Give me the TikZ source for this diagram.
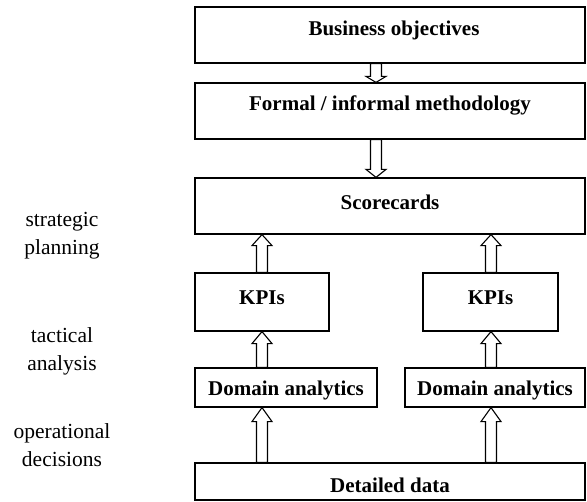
\documentclass[tikz,border=0pt]{standalone}
\usepackage{fontspec}
\setmainfont{Liberation Serif}
\usetikzlibrary{calc}
\tikzset{
  x=1pt, y=-1pt,
  box/.style={draw, line width=1.2pt, rectangle, inner sep=0pt},
  lbl/.style={font=\fontsize{21}{26}\selectfont\bfseries, inner sep=0pt},
  side/.style={font=\fontsize{21.5}{28}\selectfont, align=center, inner sep=0pt},
  blk/.style={draw, line width=1.1pt, fill=white, line join=miter},
  uparrow/.style={to path={let \p1=(\tikztostart), \p2=(\tikztotarget) in
    (\x1-5.5pt,\y1) -- (\x1-5.5pt,\y2-#1) -- (\x1-10pt,\y2-#1) -- (\x1,\y2)
    -- (\x1+10pt,\y2-#1) -- (\x1+5.5pt,\y2-#1) -- (\x1+5.5pt,\y1) -- cycle}},
  downarrow/.style={to path={let \p1=(\tikztostart), \p2=(\tikztotarget) in
    (\x1-5.5pt,\y1) -- (\x1-5.5pt,\y2+#1) -- (\x1-10pt,\y2+#1) -- (\x1,\y2)
    -- (\x1+10pt,\y2+#1) -- (\x1+5.5pt,\y2+#1) -- (\x1+5.5pt,\y1) -- cycle}},
}
\begin{document}
\begin{tikzpicture}
\useasboundingbox (0,0) rectangle (587,502);
% boxes
\node[box, minimum width=390pt, minimum height=56pt] (bo) at (390,35) {};
\node[box, minimum width=390pt, minimum height=56pt] (fm) at (390,111) {};
\node[box, minimum width=390pt, minimum height=56pt] (sc) at (390,206) {};
\node[box, minimum width=134pt, minimum height=58pt] (k1) at (262,302) {};
\node[box, minimum width=135pt, minimum height=58pt] (k2) at (490.5,302) {};
\node[box, minimum width=182pt, minimum height=39pt] (d1) at (286,387.5) {};
\node[box, minimum width=180pt, minimum height=39pt] (d2) at (495,387.5) {};
\node[box, minimum width=390pt, minimum height=37pt] (dd) at (390,481.5) {};
% labels in boxes
\node[lbl] (tbo) at (394,30) {Business objectives};
\node[lbl] (tfm) at (390,105) {Formal / informal methodology};
\node[lbl] (tsc) at (390,202) {Scorecards};
\node[lbl] (tk1) at (262,298) {KPIs};
\node[lbl] (tk2) at (490.5,298) {KPIs};
\node[lbl] (td1) at (286,390) {Domain analytics};
\node[lbl] (td2) at (495,390) {Domain analytics};
\node[lbl] (tdd) at (390,485) {Detailed data};
% side labels
\node[side] (s1) at (62,236) {strategic\\planning};
\node[side] (s2) at (62,351) {tactical\\analysis};
\node[side] (s3) at (62,445) {operational\\decisions};
% arrows
\coordinate (a1) at (376,0);
\coordinate (aL) at (262,0);
\coordinate (aR) at (491,0);
\draw[blk] (bo.south -| a1) to[downarrow=6pt] (fm.north -| a1);
\draw[blk] (fm.south -| a1) to[downarrow=8pt] (sc.north -| a1);
\draw[blk] (k1.north -| aL) to[uparrow=11pt] (sc.south -| aL);
\draw[blk] (k2.north -| aR) to[uparrow=11pt] (sc.south -| aR);
\draw[blk] (d1.north -| aL) to[uparrow=12pt] (k1.south -| aL);
\draw[blk] (d2.north -| aR) to[uparrow=12pt] (k2.south -| aR);
\draw[blk] (dd.north -| aL) to[uparrow=14pt] (d1.south -| aL);
\draw[blk] (dd.north -| aR) to[uparrow=14pt] (d2.south -| aR);
\end{tikzpicture}
\end{document}
